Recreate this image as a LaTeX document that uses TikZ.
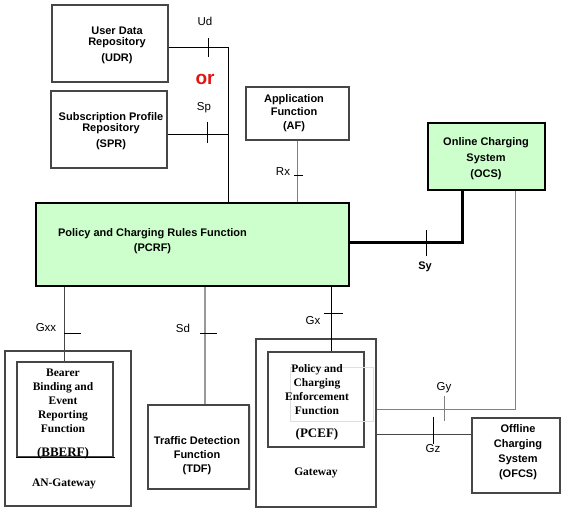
\documentclass[tikz,border=0pt]{standalone}
\usepackage{fontspec}
\setmainfont{Liberation Serif}
\setsansfont{Liberation Sans}
\usetikzlibrary{positioning}

\definecolor{pcrfgreen}{RGB}{204,255,204}
\definecolor{boxgray}{RGB}{70,70,70}
\definecolor{orred}{RGB}{225,20,20}

\tikzset{
  box/.style={draw=boxgray, line width=1.1pt, inner sep=0pt},
  greenbox/.style={box, draw=black, fill=pcrfgreen},
  boxtext/.style={font=\sffamily\bfseries\fontsize{11}{11}\selectfont, align=center, inner sep=0pt},
  sertext/.style={font=\rmfamily\bfseries\fontsize{11.5}{14}\selectfont, align=center, inner sep=0pt},
  ifname/.style={font=\sffamily\fontsize{11.5}{12}\selectfont, inner sep=0pt},
  link/.style={line width=1pt},
  tick/.style={line width=1pt},
}

\begin{document}
\begin{tikzpicture}[x=1pt, y=-1pt]
\useasboundingbox (0,0) rectangle (567,512);
        % Draw the boxes
        \node[box, minimum width=116pt, minimum height=77pt] at (110, 43.5)    (udr)   {};
        \node[box, minimum width=116pt, minimum height=77pt] at (109, 129.5)   (spr)   {};
        \node[box, minimum width=103pt, minimum height=53pt] at (297.5, 113.5) (af)    {};
        \node[greenbox, minimum width=117pt, minimum height=67pt] at (486.5, 156.5) (ocs) {};
        \node[greenbox, minimum width=313pt, minimum height=83pt] at (192.5, 244.5) (pcrf) {};
        \node[box, minimum width=126pt, minimum height=155pt] at (68, 428.5)   (angw)  {};
        \node[box, minimum width=96pt,  minimum height=95pt]  at (65, 409.5)   (bberf) {};
        \node[box, minimum width=101pt, minimum height=84pt]  at (198.5, 447)  (tdf)   {};
        \node[box, minimum width=120pt, minimum height=168pt] at (316, 423)    (gw)    {};
        \node[box, minimum width=96pt,  minimum height=95pt]  at (316, 399.5)  (pcef)  {};
        \node[box, minimum width=88pt,  minimum height=75pt]  at (516, 455.5)  (ofcs)  {};
        \draw[line width=1.1pt] (bberf.south west) -- ([xshift=1pt]bberf.south east);
        % faint traces
        \draw[gray!25, line width=0.6pt] (290, 367) rectangle (373, 421);
        \draw[gray!25, line width=0.8pt] (250.5, 406) -- (250.5, 490);
        % Texts of the boxes
        \node[boxtext] at (117, 45)    {User Data\\Repository\\[5pt](UDR)};
        \node[boxtext] at (111, 131)   {Subscription Profile\\Repository\\[5pt](SPR)};
        \node[boxtext, font=\sffamily\bfseries\fontsize{11}{13.5}\selectfont] at (294, 113) {Application\\Function\\(AF)};
        \node[boxtext, font=\sffamily\bfseries\fontsize{11}{16}\selectfont] at (486, 159) {Online Charging\\System\\(OCS)};
        \node[boxtext, font=\sffamily\bfseries\fontsize{11}{15}\selectfont] at (152.5, 241) {Policy and Charging Rules Function\\(PCRF)};
        \node[boxtext, font=\sffamily\bfseries\fontsize{11}{14}\selectfont] at (197, 456) {Traffic Detection\\Function\\(TDF)};
        \node[boxtext, font=\sffamily\bfseries\fontsize{11}{15}\selectfont] at (518, 452) {Offline\\Charging\\System\\(OFCS)};
        \node[sertext] at (63, 401)  {Bearer\\Binding and\\Event\\Reporting\\Function};
        \node[sertext, font=\rmfamily\bfseries\fontsize{13}{14}\selectfont] at (63, 453)  {(BBERF)};
        \node[sertext] at (64, 484)  {AN-Gateway};
        \node[sertext] at (317, 390) {Policy and\\Charging\\Enforcement\\Function};
        \node[sertext, font=\rmfamily\bfseries\fontsize{13}{14}\selectfont] at (317, 434) {(PCEF)};
        \node[sertext] at (316, 473) {Gateway};
        % Connect the boxes
        \coordinate (ud) at (228, 47);
        \coordinate (sp) at (228, 134);
        \coordinate (sy) at (462, 242);
        \coordinate (gy) at (515, 409);
        \coordinate (gz) at (472, 434);
        \coordinate (sd) at (205, 0);
        \coordinate (gx) at (331, 0);
        \coordinate (gxx) at (64, 0);
        \draw[link] (udr.east |- ud) -- (ud) -- (ud |- pcrf.north);
        \draw[link] (spr.east |- sp) -- (sp);
        \draw[link, gray] (af.south) -- (af.south |- pcrf.north);
        \draw[line width=3pt] (pcrf.east |- sy) -- (sy) -- (sy |- ocs.south);
        \draw[link, gray] (ocs.south -| gy) -- (gy) -- (gw.east |- gy);
        \draw[link, boxgray] (gw.east |- gz) -- (ofcs.west |- gz);
        \draw[link, boxgray] (pcrf.south -| gxx) -- (bberf.north -| gxx);
        \draw[line width=1.6pt, gray!80] (pcrf.south -| sd) -- (tdf.north -| sd);
        \draw[link] (pcrf.south -| gx) -- (pcef.north -| gx);
        % Ticks on the interfaces
        \draw[tick] (208, 38) -- (208, 57);
        \draw[tick] (207, 122) -- (207, 143);
        \draw[tick] (294, 175) -- (303, 175);
        \draw[tick] (426, 230) -- (426, 256);
        \draw[tick] (64, 333) -- (81, 333);
        \draw[tick] (200, 333) -- (217, 333);
        \draw[tick] (324, 313) -- (343, 313);
        \draw[tick, gray] (444, 396) -- (444, 421);
        \draw[tick] (433, 417) -- (433, 444);
        % Interface names
        \node[ifname] at (205, 21)  {Ud};
        \node[font=\sffamily\bfseries\fontsize{19}{19}\selectfont, text=orred, inner sep=0pt] at (205, 79) {or};
        \node[ifname] at (204, 108) {Sp};
        \node[ifname] at (283, 172) {Rx};
        \node[ifname, font=\sffamily\bfseries\fontsize{11}{11}\selectfont] at (425, 267) {Sy};
        \node[ifname] at (46, 328)  {Gxx};
        \node[ifname] at (183, 328) {Sd};
        \node[ifname] at (313, 321) {Gx};
        \node[ifname] at (444, 388) {Gy};
        \node[ifname] at (433, 449) {Gz};
\end{tikzpicture}
\end{document}
